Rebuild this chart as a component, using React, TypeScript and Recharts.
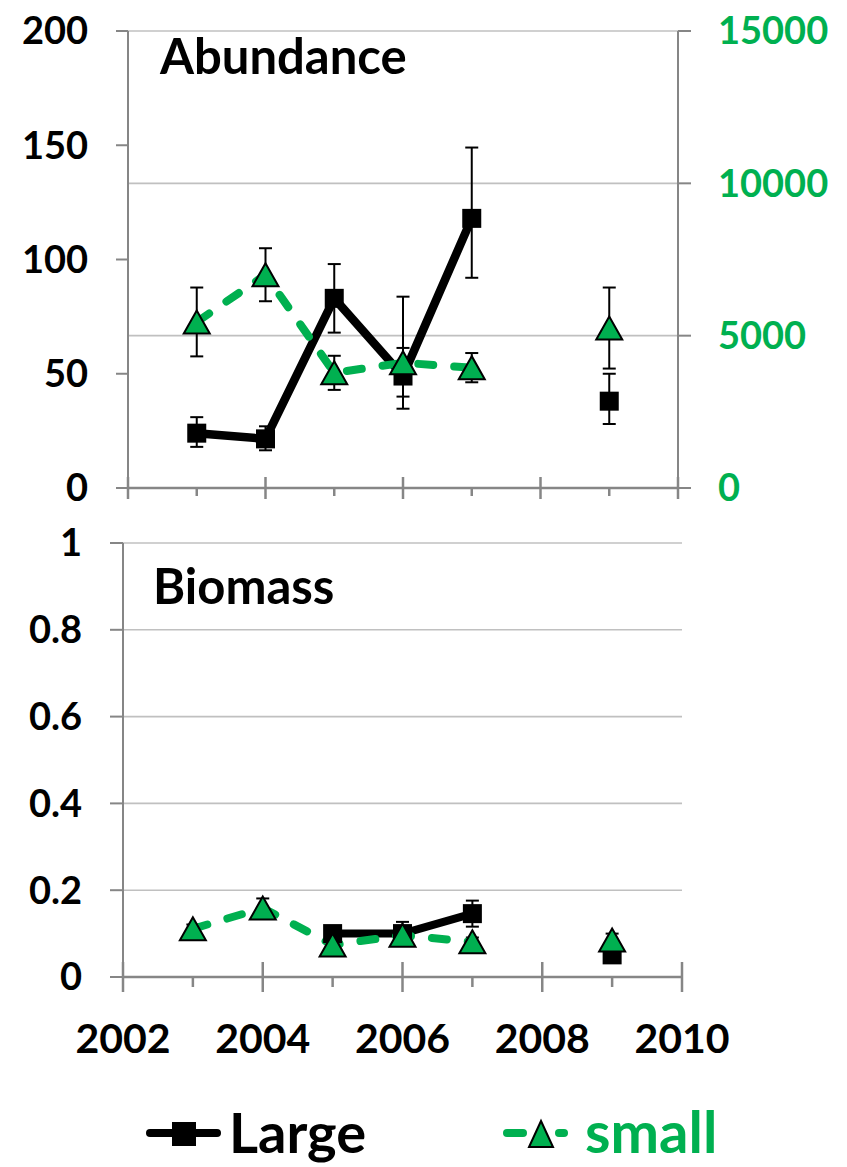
import React from 'react';
import { LineChart, Line, XAxis, YAxis, CartesianGrid, ErrorBar } from 'recharts';

const GREEN = '#00B050';
const AXIS = '#868686';
const GRID = '#C0C0C0';
const FONT = 'Lato, "Open Sans", sans-serif';

const years = [2003, 2004, 2005, 2006, 2007, 2008, 2009];
const xTicks = [2002, 2003, 2004, 2005, 2006, 2007, 2008, 2009, 2010];

const abundanceLarge = [24, 21.5, 83, 49, 118, null, 38];
const abundanceLargeErr = [[6, 7], [5, 5.5], [15, 15], [14.3, 12.3], [26, 31], null, [10, 12]];
const abundanceSmall = [5450, 7000, 3780, 4110, 3950, null, 5250];
const abundanceSmallErr = [[1130, 1130], [870, 870], [560, 560], [1110, 2170], [480, 480], null, [1330, 1330]];

const biomassLarge = [null, null, 0.1, 0.1, 0.146, null, 0.051];
const biomassLargeErr = [null, null, 0.01, 0.027, 0.03, null, 0.01];
const biomassSmall = [0.111, 0.159, 0.074, 0.096, 0.081, null, 0.085];
const biomassSmallErr = [0.01, 0.022, 0.01, 0.01, 0.01, null, 0.015];

const leftTicksTop = [0, 50, 100, 150, 200];
const rightTicksTop = [0, 5000, 10000, 15000];
const leftTicksBottom = [0, 0.2, 0.4, 0.6, 0.8, 1];

const topData = years.map((y, i) => ({
  year: y,
  large: abundanceLarge[i],
  largeErr: abundanceLargeErr[i],
  small: abundanceSmall[i],
  smallErr: abundanceSmallErr[i],
}));

const bottomData = years.map((y, i) => ({
  year: y,
  large: biomassLarge[i],
  largeErr: biomassLargeErr[i],
  small: biomassSmall[i],
  smallErr: biomassSmallErr[i],
}));

const SquareDot = (props: any) => {
  const { cx, cy, value } = props;
  if (cx == null || cy == null || value == null) return <g />;
  const s = 19;
  return <rect x={cx - s / 2} y={cy - s / 2} width={s} height={s} fill="#000" />;
};

const TriangleDot = (props: any) => {
  const { cx, cy, value } = props;
  if (cx == null || cy == null || value == null) return <g />;
  const w = 26;
  const h = 23;
  return (
    <polygon
      points={`${cx},${cy - h / 2} ${cx - w / 2},${cy + h / 2} ${cx + w / 2},${cy + h / 2}`}
      fill={GREEN}
      stroke="#000"
      strokeWidth={2}
    />
  );
};

const TopXTick = (props: any) => {
  const { x, y, payload } = props;
  const major = payload.value % 2 === 0;
  return (
    <line x1={x} x2={x} y1={major ? y - 11 : y} y2={major ? y + 11 : y + 8} stroke={AXIS} strokeWidth={2.5} />
  );
};

const BottomXTick = (props: any) => {
  const { x, y, payload } = props;
  const major = payload.value % 2 === 0;
  return (
    <g>
      <line x1={x} x2={x} y1={major ? y - 15 : y} y2={major ? y + 15 : y + 10} stroke={AXIS} strokeWidth={2.5} />
      {major && (
        <text x={x} y={y + 76} textAnchor="middle" fill="#000" fontSize={41} fontWeight={700} fontFamily={FONT}>
          {payload.value}
        </text>
      )}
    </g>
  );
};

const tickStyle = { fill: '#000', fontSize: 38, fontWeight: 700, fontFamily: FONT };

export default function App() {
  return (
    <div style={{ position: 'absolute', left: 0, top: 0, width: 847, height: 1167, background: '#fff', fontFamily: FONT }}>
      <div style={{ position: 'absolute', left: 0, top: 0 }}>
        <LineChart width={847} height={508} data={topData} margin={{ top: 31, right: 0, left: 0, bottom: 0 }}>
          <CartesianGrid yAxisId="right" vertical={false} stroke={GRID} strokeWidth={1.6} />
          <XAxis
            dataKey="year"
            type="number"
            domain={[2002, 2010]}
            ticks={xTicks}
            interval={0}
            height={20}
            axisLine={{ stroke: AXIS, strokeWidth: 2.5 }}
            tickLine={false}
            tickSize={0}
            tickMargin={0}
            tick={<TopXTick />}
          />
          <YAxis
            yAxisId="left"
            orientation="left"
            width={128}
            domain={[0, 200]}
            ticks={leftTicksTop}
            interval={0}
            axisLine={{ stroke: AXIS, strokeWidth: 2 }}
            tickLine={{ stroke: AXIS, strokeWidth: 2 }}
            tickSize={12}
            tickMargin={28}
            tick={tickStyle}
          />
          <YAxis
            yAxisId="right"
            orientation="right"
            width={169}
            domain={[0, 15000]}
            ticks={rightTicksTop}
            interval={0}
            axisLine={{ stroke: AXIS, strokeWidth: 2 }}
            tickLine={{ stroke: AXIS, strokeWidth: 2 }}
            tickSize={13}
            tickMargin={27}
            tick={{ ...tickStyle, fill: GREEN }}
          />
          <Line
            yAxisId="left"
            dataKey="large"
            stroke="#000"
            strokeWidth={8.5}
            strokeLinejoin="round"
            dot={<SquareDot />}
            activeDot={false}
            isAnimationActive={false}
          >
            <ErrorBar dataKey="largeErr" direction="y" width={6.5} stroke="#000" strokeWidth={2} />
          </Line>
          <Line
            yAxisId="right"
            dataKey="small"
            stroke={GREEN}
            strokeWidth={8}
            strokeDasharray="15 21"
            strokeLinecap="round"
            dot={<TriangleDot />}
            activeDot={false}
            isAnimationActive={false}
          >
            <ErrorBar dataKey="smallErr" direction="y" width={6.5} stroke="#000" strokeWidth={2} />
          </Line>
        </LineChart>
      </div>

      <div style={{ position: 'absolute', left: 0, top: 500 }}>
        <LineChart width={847} height={597} data={bottomData} margin={{ top: 43, right: 165, left: 0, bottom: 0 }}>
          <CartesianGrid vertical={false} stroke={GRID} strokeWidth={1.6} />
          <XAxis
            dataKey="year"
            type="number"
            domain={[2002, 2010]}
            ticks={xTicks}
            interval={0}
            height={120}
            axisLine={{ stroke: AXIS, strokeWidth: 2.5 }}
            tickLine={false}
            tickSize={0}
            tickMargin={0}
            tick={<BottomXTick />}
          />
          <YAxis
            width={123}
            domain={[0, 1]}
            ticks={leftTicksBottom}
            interval={0}
            axisLine={{ stroke: AXIS, strokeWidth: 2 }}
            tickLine={{ stroke: AXIS, strokeWidth: 2 }}
            tickSize={13}
            tickMargin={28}
            tick={tickStyle}
          />
          <Line
            dataKey="large"
            stroke="#000"
            strokeWidth={8}
            strokeLinejoin="round"
            dot={<SquareDot />}
            activeDot={false}
            isAnimationActive={false}
          >
            <ErrorBar dataKey="largeErr" direction="y" width={6.5} stroke="#000" strokeWidth={2} />
          </Line>
          <Line
            dataKey="small"
            stroke={GREEN}
            strokeWidth={8}
            strokeDasharray="15 21"
            strokeLinecap="round"
            dot={<TriangleDot />}
            activeDot={false}
            isAnimationActive={false}
          >
            <ErrorBar dataKey="smallErr" direction="y" width={6.5} stroke="#000" strokeWidth={2} />
          </Line>
        </LineChart>
      </div>

      <svg width={847} height={1167} style={{ position: 'absolute', left: 0, top: 0, pointerEvents: 'none' }}>
        <text x={160} y={74} fontSize={49} fontWeight={700} fill="#000" fontFamily={FONT}>Abundance</text>
        <text x={153} y={604} fontSize={49} fontWeight={700} fill="#000" fontFamily={FONT}>Biomass</text>

        <line x1={150} x2={217} y1={1133} y2={1133} stroke="#000" strokeWidth={8} strokeLinecap="round" />
        <rect x={172} y={1122} width={24} height={24} fill="#000" />
        <text x={229} y={1153} fontSize={56} fontWeight={700} fill="#000" fontFamily={FONT}>Large</text>

        <line x1={507} x2={523} y1={1133} y2={1133} stroke={GREEN} strokeWidth={8} strokeLinecap="round" />
        <line x1={559} x2={564} y1={1133} y2={1133} stroke={GREEN} strokeWidth={8} strokeLinecap="round" />
        <polygon points="541,1121 529,1147 553,1147" fill={GREEN} stroke="#000" strokeWidth={2} />
        <text x={585} y={1153} fontSize={58} fontWeight={700} fill={GREEN} fontFamily={FONT}>small</text>
      </svg>
    </div>
  );
}
